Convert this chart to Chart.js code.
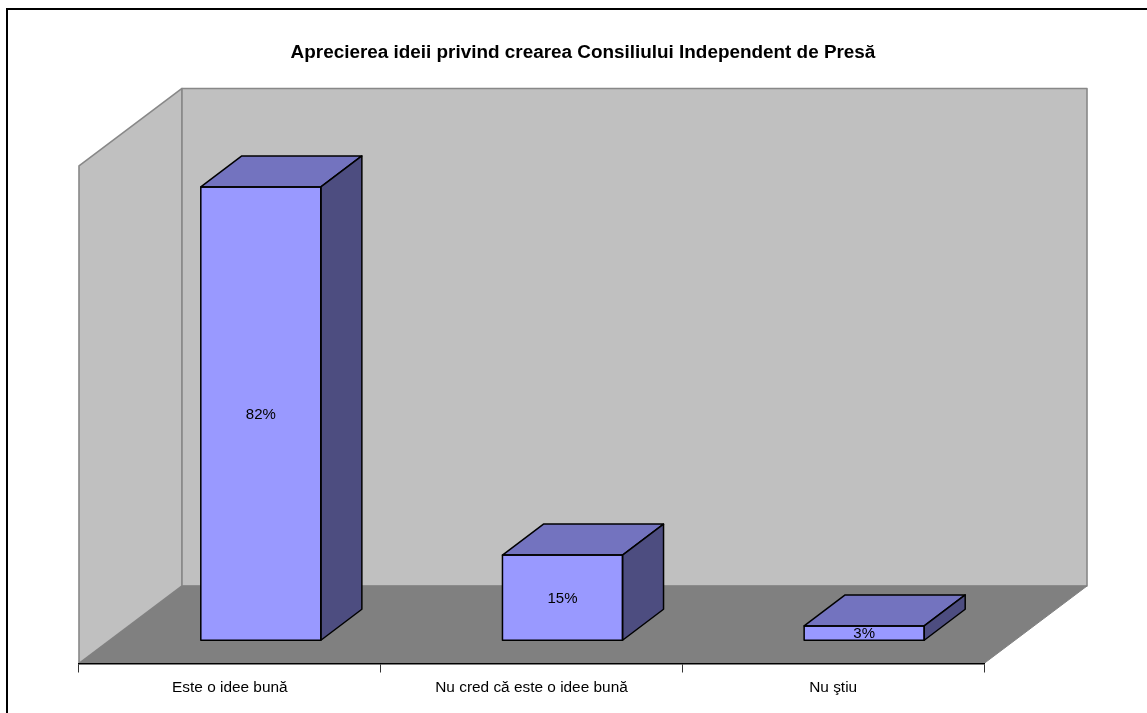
<!DOCTYPE html>
<html>
<head>
<meta charset="utf-8">
<title>Consiliul Independent de Presă</title>
<style>
  html, body { margin: 0; padding: 0; background: #fff; overflow: hidden; }
  canvas { display: block; }
</style>
<script src="https://cdn.jsdelivr.net/npm/chart.js@4/dist/chart.umd.min.js"></script>
</head>
<body>
<canvas id="chart" width="1147" height="713"></canvas>
<script>
// Data
const chartTitle = "Aprecierea ideii privind crearea Consiliului Independent de Presă";
const categories = ["Este o idee bună", "Nu cred că este o idee bună", "Nu ştiu"];
const values = [82, 15.4, 2.6];
const axisMax = 90;

// 3D look
const wallDx = 103, wallDy = 77.5;
const barDx = 41, barDy = 31;
const shiftX = (wallDx - barDx) / 2, shiftY = (wallDy - barDy) / 2;
const fontName = '"Liberation Sans", Arial, sans-serif';

function poly(ctx, pts, fill, stroke, lw) {
  ctx.beginPath();
  pts.forEach((p, i) => (i ? ctx.lineTo(p[0], p[1]) : ctx.moveTo(p[0], p[1])));
  ctx.closePath();
  ctx.fillStyle = fill;
  ctx.fill();
  if (stroke) {
    ctx.strokeStyle = stroke;
    ctx.lineWidth = lw;
    ctx.lineJoin = "round";
    ctx.stroke();
  }
}

const box3d = {
  id: "box3d",
  afterLayout(chart) {
    // title is centred over the whole picture, not the plot
    const t = chart.titleBlock;
    t.left = 0;
    t.right = 1166;
    t.top = 41;
  },
  beforeDraw(chart) {
    const ctx = chart.ctx;
    const { left, right, top, bottom } = chart.chartArea;
    const edge = "#888888";
    // frame of the picture, only left and top are visible
    ctx.fillStyle = "#000";
    ctx.fillRect(6, 8, 2, 705);
    ctx.fillRect(6, 8, 1141, 2);
    // side wall
    poly(ctx, [[left, top], [left + wallDx, top - wallDy], [left + wallDx, bottom - wallDy], [left, bottom]], "#C0C0C0", edge, 1.6);
    // back wall
    poly(ctx, [[left + wallDx, top - wallDy], [right + wallDx, top - wallDy], [right + wallDx, bottom - wallDy], [left + wallDx, bottom - wallDy]], "#C0C0C0", edge, 1.6);
    // floor
    poly(ctx, [[left, bottom], [right, bottom], [right + wallDx, bottom - wallDy], [left + wallDx, bottom - wallDy]], "#808080", "#808080", 1);
  },
  beforeDatasetsDraw(chart) {
    chart.ctx.save();
    chart.ctx.translate(shiftX, -shiftY);
  },
  afterDatasetsDraw(chart) {
    const ctx = chart.ctx;
    chart.getDatasetMeta(0).data.forEach((bar, i) => {
      const l = bar.x - bar.width / 2, r = bar.x + bar.width / 2;
      const y = bar.y, b = bar.base;
      // top and side faces
      poly(ctx, [[l, y], [r, y], [r + barDx, y - barDy], [l + barDx, y - barDy]], "#7373BF", "#000", 1.5);
      poly(ctx, [[r, y], [r + barDx, y - barDy], [r + barDx, b - barDy], [r, b]], "#4D4D80", "#000", 1.5);
      ctx.strokeStyle = "#000";
      ctx.lineWidth = 1.5;
      ctx.strokeRect(l, y, r - l, b - y);
      // value label
      ctx.fillStyle = "#000";
      ctx.font = "15px " + fontName;
      ctx.textAlign = "center";
      ctx.textBaseline = "middle";
      ctx.fillText(Math.round(values[i]) + "%", bar.x, (y + b) / 2 + 1);
    });
    ctx.restore();
  },
};

new Chart(document.getElementById("chart"), {
  type: "bar",
  data: {
    labels: categories,
    datasets: [
      {
        data: values,
        backgroundColor: "#9999FF",
        borderWidth: 0,
        categoryPercentage: 1,
        barPercentage: 0.398,
      },
    ],
  },
  options: {
    responsive: false,
    animation: false,
    layout: { padding: { left: 79, right: 163, top: 143.3, bottom: 0 } },
    plugins: {
      legend: { display: false },
      tooltip: { enabled: false },
      title: {
        display: true,
        text: chartTitle,
        color: "#000",
        padding: 0,
        font: { family: fontName, size: 18.9, weight: "bold", lineHeight: 1.2 },
      },
    },
    scales: {
      x: {
        grid: { drawOnChartArea: false, drawTicks: true, tickLength: 9, color: "#333", lineWidth: 1 },
        border: { color: "#000", width: 1.5 },
        ticks: { color: "#000", padding: 6, maxRotation: 0, font: { family: fontName, size: 15.4 } },
        afterFit(scale) {
          scale.height = 49.5;
        },
      },
      y: { display: false, min: 0, max: axisMax },
    },
  },
  plugins: [box3d],
});
</script>
</body>
</html>
